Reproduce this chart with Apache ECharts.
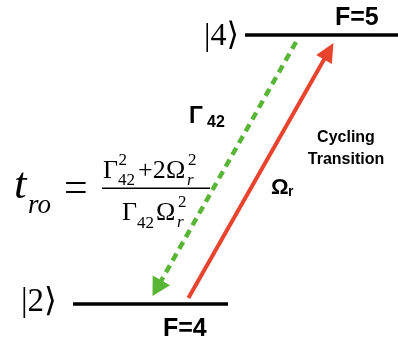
<!DOCTYPE html>
<html>
<head>
<meta charset="utf-8">
<script src="https://cdn.jsdelivr.net/npm/echarts@6/dist/echarts.min.js"></script>
<style>
  html, body { margin: 0; padding: 0; background: #fff; }
  #chart { width: 398px; height: 344px; }
</style>
</head>
<body>
<div id="chart"></div>
<script>
// Two hyperfine levels (schematic units: x = horizontal extent, energy = height)
const levelNames = ['|2\u27E9', '|4\u27E9'];
const levelF = ['F=4', 'F=5'];
const levelEnergy = [40, 309];
const levelXStart = [73, 245];
const levelXEnd = [228, 398];

// Transitions: index of level left, index of level reached, x at each level
const transitionNames = ['\u0393', '\u03A9'];
const transitionSub = ['42', 'r'];
const transitionFrom = [1, 0];
const transitionTo = [0, 1];
const transitionXFrom = [300, 185];
const transitionXTo = [148, 338];

const GREEN = '#58b535';
const RED = '#e8432d';
const SERIF = '"Liberation Serif", "DejaVu Serif", serif';
const SANS = '"Liberation Sans", Arial, sans-serif';

const levelData = levelEnergy.map((e, i) => [levelXStart[i], levelXEnd[i], e]);
const transitionData = transitionFrom.map((f, i) => [
  transitionXFrom[i], levelEnergy[f], transitionXTo[i], levelEnergy[transitionTo[i]], i
]);

function renderLevel(params, api) {
  const a = api.coord([api.value(0), api.value(2)]);
  const b = api.coord([api.value(1), api.value(2)]);
  return {
    type: 'line',
    shape: { x1: a[0], y1: a[1], x2: b[0], y2: b[1] },
    style: { stroke: '#000', lineWidth: 3.5 }
  };
}

function renderTransition(params, api) {
  const idx = api.value(4);
  const p0 = api.coord([api.value(0), api.value(1)]);
  const p1 = api.coord([api.value(2), api.value(3)]);
  // keep the arrow off the level lines
  const gapStart = idx === 0 ? 7 : 6;
  const gapEnd = 8;
  const dx = p1[0] - p0[0], dy = p1[1] - p0[1];
  const len = Math.hypot(dx, dy);
  const ux = dx / len, uy = dy / len;
  const s = gapStart / Math.abs(uy), e = gapEnd / Math.abs(uy);
  const start = [p0[0] + ux * s, p0[1] + uy * s];
  const tip = [p1[0] - ux * e, p1[1] - uy * e];
  const headL = idx === 0 ? 18 : 19;
  const headW = idx === 0 ? 10 : 9;
  const base = [tip[0] - ux * headL, tip[1] - uy * headL];
  const nx = -uy, ny = ux;
  const color = idx === 0 ? GREEN : RED;
  const lineEnd = [tip[0] - ux * headL * 0.7, tip[1] - uy * headL * 0.7];
  return {
    type: 'group',
    children: [
      {
        type: 'line',
        shape: { x1: start[0], y1: start[1], x2: lineEnd[0], y2: lineEnd[1] },
        style: idx === 0
          ? { stroke: color, lineWidth: 4.5, lineDash: [8, 5.5] }
          : { stroke: color, lineWidth: 4 }
      },
      {
        type: 'polygon',
        shape: { points: [tip, [base[0] + nx * headW, base[1] + ny * headW], [base[0] - nx * headW, base[1] - ny * headW]] },
        style: { fill: color }
      }
    ]
  };
}

// text placed by its baseline
function txt(text, x, baseline, size, face, align) {
  return {
    type: 'text', x: x, y: baseline - 0.8 * size,
    style: { text: text, font: face.replace('SIZE', size + 'px'), fill: '#000', align: align || 'left', verticalAlign: 'top' }
  };
}
const serif = 'SIZE ' + SERIF;
const serifIt = 'italic SIZE ' + SERIF;
const sansB = 'bold SIZE ' + SANS;

const chart = echarts.init(document.getElementById('chart'), null, { renderer: 'canvas' });
chart.setOption({
  animation: false,
  backgroundColor: '#fff',
  grid: { left: 0, right: 0, top: 0, bottom: 0 },
  xAxis: { type: 'value', min: 0, max: 398, show: false },
  yAxis: { type: 'value', min: 0, max: 344, show: false },
  series: [
    { type: 'custom', renderItem: renderLevel, data: levelData, silent: true },
    { type: 'custom', renderItem: renderTransition, data: transitionData, silent: true }
  ],
  graphic: [
    // level kets and hyperfine labels
    txt(levelNames[1], 204, 46, 32, serif),
    txt(levelF[1], 335, 26, 25, sansB),
    txt(levelNames[0], 21, 312, 33, serif),
    txt(levelF[0], 163, 337, 25, sansB),
    // transition labels
    txt(transitionNames[0], 189, 124, 23, sansB),
    txt(transitionSub[0], 207, 127, 16, sansB),
    txt(transitionNames[1], 271, 195, 22, sansB),
    txt(transitionSub[1], 288, 196, 14, sansB),
    txt('Cycling', 346, 142, 16, sansB, 'center'),
    txt('Transition', 346, 164, 16, sansB, 'center'),
    // readout time formula
    txt('t', 14, 200, 45, serifIt),
    txt('ro', 28, 214, 27, serifIt),
    txt('=', 64, 203, 42, serif),
    { type: 'rect', shape: { x: 102, y: 187.5, width: 108, height: 1.6 }, style: { fill: '#000' } },
    txt('\u0393', 103, 179, 26, serif),
    txt('2', 118.5, 166, 17, serif),
    txt('42', 118, 186, 17, serif),
    txt('+2', 138, 179, 26, serif),
    txt('\u03A9', 166, 179, 26, serif),
    txt('2', 188, 166, 17, serif),
    txt('r', 187, 186, 17, serifIt),
    txt('\u0393', 122, 221, 26, serif),
    txt('42', 137, 229, 17, serif),
    txt('\u03A9', 156, 221, 26, serif),
    txt('2', 178, 208, 17, serif),
    txt('r', 177, 228, 17, serifIt)
  ]
});
</script>
</body>
</html>
